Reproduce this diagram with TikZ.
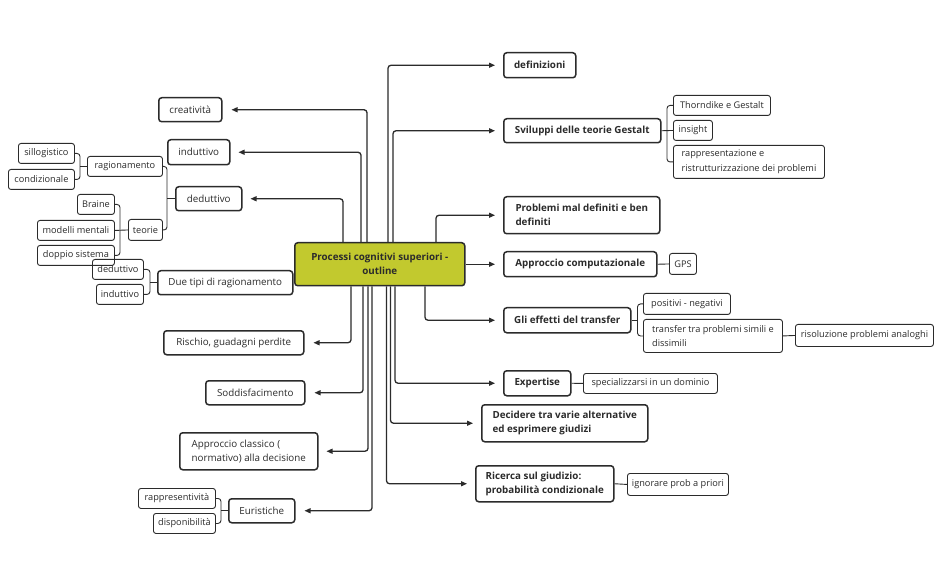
\documentclass[tikz,border=0pt]{standalone}
\usepackage{fontspec}
\setmainfont{Open Sans}
\usetikzlibrary{arrows.meta}
\definecolor{ink}{HTML}{2B2B2B}
\definecolor{olive}{HTML}{C2C92E}
\newcommand\mainsz{\fontsize{9.8}{14}\selectfont}
\newcommand\bmainsz{\fontsize{9.8}{14}\selectfont\bfseries}
\newcommand\subsz{\fontsize{9.2}{14.5}\selectfont}
\tikzset{
  mb/.style={draw=ink, line width=1.5pt, rounded corners=3pt, anchor=north west, align=left, inner sep=2pt, font=\mainsz, text=ink},
  bmb/.style={mb, font=\bmainsz},
  sb/.style={draw=ink, line width=0.9pt, rounded corners=2.5pt, anchor=north west, align=left, inner sep=1.5pt, font=\subsz, text=ink},
  conn/.style={draw=ink, line width=1.3pt, rounded corners=3pt, -{Triangle[length=6pt,width=5pt]}},
  sconn/.style={draw=ink, line width=0.9pt, rounded corners=3pt},
}
\begin{document}
\begin{tikzpicture}[x=1pt,y=-1pt]
\useasboundingbox[fill=white] (0,0) rectangle (945,585);
% root
\node[mb, fill=olive, align=center, font=\bmainsz, minimum width=170pt, minimum height=43pt] (root) at (294,242) {Processi cognitivi superiori -\\outline};
% left main
\node[mb, minimum width=63pt, minimum height=24pt] (creat) at (158,97) {creatività};
\node[mb, minimum width=62pt, minimum height=25pt] (indutt) at (167,139) {induttivo};
\node[mb, minimum width=66pt, minimum height=24pt] (dedutt) at (175,186) {deduttivo};
\node[mb, minimum width=135pt, minimum height=24pt] (duetipi) at (157,270) {Due tipi di ragionamento};
\node[mb, minimum width=140pt, minimum height=24pt] (rischio) at (163,330) {Rischio, guadagni perdite};
\node[mb, minimum width=99pt, minimum height=24pt] (soddisf) at (205,380) {Soddisfacimento};
\node[mb, minimum width=138pt, minimum height=37pt] (appclass) at (179,432) {Approccio classico (\\normativo) alla decisione};
\node[mb, minimum width=66pt, minimum height=24pt] (eurist) at (228,498) {Euristiche};
% right main
\node[bmb, minimum width=72pt, minimum height=25pt] (defin) at (503,52) {definizioni};
\node[bmb, minimum width=157pt, minimum height=24pt] (svil) at (503,118) {Sviluppi delle teorie Gestalt};
\node[bmb, minimum width=156pt, minimum height=37pt] (probl) at (503,196) {Problemi mal definiti e ben\\definiti};
\node[bmb, minimum width=153pt, minimum height=25pt] (appcomp) at (503,251) {Approccio computazionale};
\node[bmb, minimum width=127pt, minimum height=25pt] (effetti) at (503,307) {Gli effetti del transfer};
\node[bmb, minimum width=67pt, minimum height=25pt] (expert) at (503,370) {Expertise};
\node[bmb, minimum width=166pt, minimum height=37pt] (decid) at (481,404) {Decidere tra varie alternative\\ed esprimere giudizi};
\node[bmb, minimum width=138pt, minimum height=36pt] (ricerca) at (475,465) {Ricerca sul giudizio:\\probabilità condizionale};
% left sub
\node[sb, minimum width=75pt, minimum height=20pt] (ragion) at (87,156) {ragionamento};
\node[sb, minimum width=34pt, minimum height=21pt] (teorie) at (128,219) {teorie};
\node[sb, minimum width=56pt, minimum height=20pt] (sillog) at (18,143) {sillogistico};
\node[sb, minimum width=66pt, minimum height=20pt] (condiz) at (8,169) {condizionale};
\node[sb, minimum width=37pt, minimum height=20pt] (braine) at (77,194) {Braine};
\node[sb, minimum width=77pt, minimum height=20pt] (modelli) at (37,220) {modelli mentali};
\node[sb, minimum width=77pt, minimum height=20pt] (doppio) at (37,245) {doppio sistema};
\node[sb, minimum width=51pt, minimum height=20pt] (sdedutt) at (92,259) {deduttivo};
\node[sb, minimum width=47pt, minimum height=20pt] (sindutt) at (96,284) {induttivo};
\node[sb, minimum width=77pt, minimum height=20pt] (rappr) at (138,488) {rappresentività};
\node[sb, minimum width=62pt, minimum height=20pt] (dispon) at (153,513) {disponibilità};
% right sub
\node[sb, minimum width=97pt, minimum height=20pt] (thorn) at (673,95) {Thorndike e Gestalt};
\node[sb, minimum width=39pt, minimum height=20pt] (insight) at (673,120) {insight};
\node[sb, minimum width=151pt, minimum height=33pt] (rappz) at (673,145) {rappresentazione e\\ristrutturizzazione dei problemi};
\node[sb, minimum width=27pt, minimum height=21pt] (gps) at (669,253) {GPS};
\node[sb, minimum width=87pt, minimum height=21pt] (posit) at (643,293) {positivi - negativi};
\node[sb, minimum width=139pt, minimum height=33pt] (transf) at (643,319) {transfer tra problemi simili e\\dissimili};
\node[sb, minimum width=138pt, minimum height=22pt] (risol) at (795,324) {risoluzione problemi analoghi};
\node[sb, minimum width=134pt, minimum height=20pt] (special) at (583,373) {specializzarsi in un dominio};
\node[sb, minimum width=101pt, minimum height=22pt] (ignor) at (627,473) {ignorare prob a priori};
% main connectors (top)
\draw[conn] ([xshift=73pt]root.north west) |- ([xshift=9pt]creat.east);
\draw[conn] ([xshift=67pt]root.north west) |- ([xshift=8pt]indutt.east);
\draw[conn] ([xshift=49pt]root.north west) |- ([xshift=8pt]dedutt.east);
\draw[conn] ([xshift=94pt]root.north west) |- ([xshift=-8pt]defin.west);
\draw[conn] ([xshift=99pt]root.north west) |- ([xshift=-8pt]svil.west);
\draw[conn] ([xshift=142pt]root.north west) |- ([xshift=-8pt]probl.west);
% right
\draw[conn] (root.east) -- ([xshift=-8pt]appcomp.west);
% bottom
\draw[conn] ([xshift=57pt]root.south west) |- ([xshift=9pt]rischio.east);
\draw[conn] ([xshift=69pt]root.south west) |- ([xshift=9pt]soddisf.east);
\draw[conn] ([xshift=74pt]root.south west) |- ([xshift=8pt]appclass.east);
\draw[conn] ([xshift=78pt]root.south west) |- ([xshift=9pt]eurist.east);
\draw[conn] ([xshift=131pt]root.south west) |- ([xshift=-8pt]effetti.west);
\draw[conn] ([xshift=101pt]root.south west) |- ([xshift=-8pt]expert.west);
\draw[conn] ([xshift=96.5pt]root.south west) |- ([xshift=-8pt]decid.west);
\draw[conn] ([xshift=92.5pt]root.south west) |- ([xshift=-8pt]ricerca.west);
% sub connectors
\draw[sconn] (sillog.east) -| ([xshift=-7pt]ragion.west) |- (condiz.east);
\draw[sconn] (ragion.west) -- ([xshift=-7pt]ragion.west);
\draw[sconn] (ragion.east) -| ([xshift=-8pt]dedutt.west) |- (teorie.east);
\draw[sconn] (dedutt.west) -- ([xshift=-8pt]dedutt.west);
\draw[sconn] (braine.east) -| ([xshift=-8pt]teorie.west) |- (doppio.east);
\draw[sconn] (modelli.east) -- (teorie.west);
\draw[sconn] (sdedutt.east) -| ([xshift=-7pt]duetipi.west) |- (sindutt.east);
\draw[sconn] (duetipi.west) -- ([xshift=-7pt]duetipi.west);
\draw[sconn] (rappr.east) -| ([xshift=-7pt]eurist.west) |- (dispon.east);
\draw[sconn] (eurist.west) -- ([xshift=-7pt]eurist.west);
\draw[sconn] (thorn.west) -| ([xshift=-6pt]insight.west) |- (rappz.west);
\draw[sconn] (svil.east) -- (insight.west);
\draw[sconn] (posit.west) -| ([xshift=6pt]effetti.east) |- (transf.west);
\draw[sconn] (effetti.east) -- ([xshift=6pt]effetti.east);
\draw[sconn] (transf.east) -- (risol.west);
\draw[sconn] (appcomp.east) -- (gps.west);
\draw[sconn] (expert.east) -- (special.west);
\draw[sconn] (ricerca.east) -- (ignor.west);
\end{tikzpicture}
\end{document}
